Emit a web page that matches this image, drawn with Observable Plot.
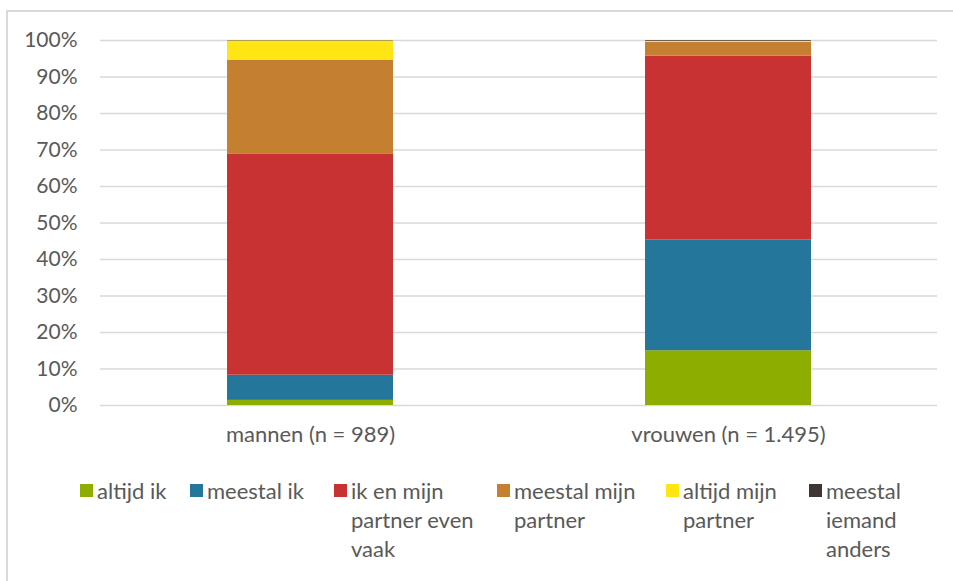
<!DOCTYPE html>
<html>
<head>
<meta charset="utf-8">
<script src="https://cdn.jsdelivr.net/npm/d3@7"></script>
<script src="https://cdn.jsdelivr.net/npm/@observablehq/plot@0.6"></script>
<style>
  html, body { margin: 0; padding: 0; background: #fff; overflow: hidden; }
  #wrap { position: relative; width: 953px; height: 581px; font-family: Lato, "Open Sans", sans-serif; color: #595959; }
  #chart { position: absolute; left: 0; top: 0; }
  #frame { position: absolute; left: 6px; top: 10px; width: 1200px; height: 1200px; border-left: 2px solid #d9d9d9; border-top: 2px solid #d9d9d9; pointer-events: none; }
  .lg { position: absolute; top: 476px; font-size: 22px; line-height: 29px; color: #595959; }
  .sw { position: absolute; width: 13px; height: 13px; top: 484px; }
  #chart svg g[aria-label="x-axis tick label"] text { font-size: 22px; }
</style>
</head>
<body>
<div id="wrap">
  <div id="chart"></div>
  <div id="legend"></div>
  <div id="frame"></div>
</div>
<script>
const categories = ["mannen (n = 989)", "vrouwen (n = 1.495)"];
const series = ["altijd ik", "meestal ik", "ik en mijn partner even vaak", "meestal mijn partner", "altijd mijn partner", "meestal iemand anders"];
const legendLines = [["altijd ik"], ["meestal ik"], ["ik en mijn", "partner even", "vaak"], ["meestal mijn", "partner"], ["altijd mijn", "partner"], ["meestal", "iemand", "anders"]];
const mannen = [1.4, 6.9, 60.5, 25.8, 5.3, 0.1];
const vrouwen = [15.0, 30.3, 50.4, 3.8, 0.3, 0.2];
const colors = ["#8dad00", "#24779b", "#c83232", "#c47f30", "#ffe514", "#3f3634"];
const yTicks = [0, 10, 20, 30, 40, 50, 60, 70, 80, 90, 100];

const values = [mannen, vrouwen];
const data = [];
categories.forEach((c, i) => series.forEach((s, j) => data.push({cat: c, series: s, value: values[i][j]})));

const plot = Plot.plot({
  width: 953,
  height: 470,
  marginLeft: 100,
  marginRight: 16,
  marginTop: 40,
  marginBottom: 65,
  style: {background: "transparent", fontFamily: "Lato, 'Open Sans', sans-serif", fontSize: "21px", color: "#595959"},
  x: {domain: categories, padding: 0, label: null, tickSize: 0, tickPadding: 21},
  y: {domain: [0, 100], ticks: yTicks, tickFormat: d => d + "%", label: null, tickSize: 0, tickPadding: 23},
  color: {domain: series, range: colors},
  marks: [
    Plot.ruleY(yTicks, {stroke: "#d9d9d9", strokeWidth: 1.5}),
    Plot.barY(data, {x: "cat", y: "value", fill: "series", insetLeft: 126, insetRight: 126})
  ]
});
document.getElementById("chart").appendChild(plot);

const swX = [80, 190, 334, 497, 666, 809];
const leg = document.getElementById("legend");
series.forEach((s, i) => {
  const sw = document.createElement("div");
  sw.className = "sw";
  sw.style.left = swX[i] + "px";
  sw.style.background = colors[i];
  leg.appendChild(sw);
  const t = document.createElement("div");
  t.className = "lg";
  t.style.left = (swX[i] + 17) + "px";
  t.innerHTML = legendLines[i].join("<br>");
  leg.appendChild(t);
});
</script>
</body>
</html>
